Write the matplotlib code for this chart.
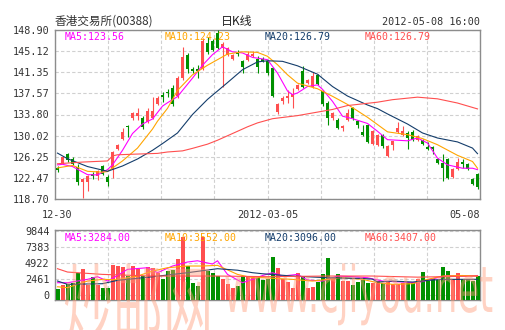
import matplotlib
matplotlib.use("Agg")
from matplotlib import pyplot as plt
from matplotlib.textpath import TextPath
from matplotlib.patches import PathPatch
from matplotlib.font_manager import FontProperties
import matplotlib.transforms as mtransforms
import numpy as np

plt.rcParams['font.family'] = ['DejaVu Sans Mono']

# daily candles 2011-12-30 .. 2012-05-08
opens = [124.3, 125.2, 126.8, 125.8, 124.4, 121.8, 121.8, 123.2, 122.8, 124.6,
         122.7, 124.0, 127.6, 129.4, 131.8, 133.1, 133.5, 133.2, 132.5, 133.2,
         135.7, 137.2, 137.9, 138.5, 137.1, 140.3, 144.4, 141.9, 142.0, 142.0,
         146.5, 146.9, 148.3, 145.6, 144.4, 143.8, 145.0, 143.3, 143.6, 144.2,
         143.8, 143.8, 143.4, 142.1, 134.3, 136.2, 136.8, 137.0, 138.4, 141.5,
         139.4, 138.8, 140.9, 138.0, 135.9, 133.1, 132.9, 131.3, 132.9, 134.9,
         132.7, 130.7, 131.9, 128.5, 128.4, 130.1, 126.4, 128.3, 130.7, 130.2,
         130.5, 130.7, 129.3, 129.3, 128.0, 128.0, 125.9, 125.2, 125.8, 122.6,
         124.0, 125.3, 124.9, 122.2, 123.1]
closes = [123.8, 126.2, 125.6, 124.9, 121.8, 122.2, 122.8, 122.8, 123.7, 123.1,
          121.8, 127.1, 128.4, 130.7, 131.5, 134.1, 134.1, 131.5, 134.4, 134.5,
          136.8, 136.9, 137.6, 135.7, 140.3, 144.0, 141.9, 141.5, 141.6, 146.9,
          144.9, 145.4, 145.7, 146.4, 145.6, 144.4, 144.6, 142.2, 144.6, 144.6,
          142.2, 143.4, 141.2, 137.1, 135.6, 136.8, 137.1, 137.4, 139.0, 138.7,
          139.9, 140.6, 139.3, 135.7, 133.2, 134.1, 131.4, 131.8, 134.1, 133.1,
          131.9, 130.2, 128.9, 130.8, 130.1, 128.1, 128.1, 129.0, 131.3, 130.8,
          129.6, 129.3, 129.9, 128.5, 127.7, 127.7, 125.2, 124.3, 122.5, 124.0,
          125.3, 125.0, 124.0, 121.4, 120.8]
highs = [124.6, 126.3, 127.0, 126.2, 124.9, 122.4, 123.0, 123.5, 123.9, 124.8,
         122.9, 127.3, 128.5, 131.3, 131.9, 134.3, 135.0, 133.5, 135.0, 136.9,
         137.1, 137.8, 138.3, 139.1, 140.6, 145.8, 144.8, 142.2, 142.7, 147.4,
         147.6, 147.3, 148.9, 146.7, 145.8, 144.7, 145.4, 143.6, 145.1, 145.2,
         144.2, 144.1, 143.6, 142.3, 135.9, 137.1, 138.2, 138.5, 139.3, 142.4,
         140.1, 141.4, 141.1, 138.2, 136.3, 134.3, 133.1, 132.0, 134.7, 135.1,
         132.9, 132.0, 132.1, 131.0, 130.3, 130.3, 128.3, 129.1, 132.5, 131.7,
         130.8, 131.0, 130.1, 129.5, 128.8, 128.2, 126.1, 126.7, 126.0, 124.2,
         126.0, 125.8, 125.1, 122.4, 123.3]
lows = [123.5, 125.0, 125.4, 124.7, 121.2, 118.8, 120.1, 122.2, 122.1, 122.9,
        121.1, 122.4, 127.4, 129.2, 129.7, 132.9, 132.9, 131.2, 132.3, 133.0,
        135.5, 136.0, 137.0, 135.3, 136.8, 140.0, 141.3, 141.2, 140.3, 141.8,
        144.6, 145.2, 145.5, 138.7, 144.2, 143.6, 144.3, 141.2, 143.4, 144.0,
        141.2, 143.2, 140.9, 136.9, 133.9, 135.6, 135.9, 134.9, 138.2, 138.5,
        139.2, 138.6, 139.0, 135.4, 131.9, 132.9, 131.2, 130.9, 132.7, 132.9,
        131.4, 130.0, 128.7, 128.3, 128.2, 127.9, 126.2, 127.4, 130.5, 130.0,
        127.7, 129.1, 129.1, 128.3, 127.5, 126.7, 125.0, 122.0, 122.2, 122.4,
        123.8, 124.3, 123.8, 121.2, 120.5]
volumes = [940, 1540, 1700, 1900, 3480, 4090, 1540, 2800, 1540, 1200,
           1100, 4650, 4500, 4350, 3050, 4500, 4090, 3050, 4350, 4240,
           3480, 2460, 3700, 3900, 5600, 9000, 4500, 1950, 1450, 8930,
           3700, 3480, 3000, 2460, 1800, 1200, 1450, 2970, 3050, 2870,
           2970, 2300, 2500, 5900, 4200, 2470, 2000, 1100, 3470, 2970,
           1100, 1250, 2000, 3230, 5770, 2470, 3230, 2200, 2200, 1550,
           2000, 2400, 1950, 1950, 2200, 1950, 2200, 1800, 1700, 1950,
           2000, 2000, 2460, 3580, 2200, 2460, 2400, 4390, 3730, 2460,
           3480, 2460, 2460, 2200, 3050]

# moving average lines, read at the candle index where they could be read
ma5_idx = [0, 1, 3, 6, 8, 10, 11, 13, 15, 17, 19, 21, 22, 24, 27, 29, 31, 33, 35, 37, 39,
           42, 44, 46, 47, 48, 50, 52, 53, 55, 57, 59, 62, 64, 66, 70, 72, 74, 76, 78, 81, 83, 84]
ma5_val = [124.8, 124.9, 124.5, 123.05, 123.0, 123.95, 124.8, 127.4, 130.4, 132.1, 133.0,
           135.3, 135.9, 137.0, 140.3, 142.6, 144.5, 145.9, 145.0, 144.8, 144.0, 143.6,
           141.2, 138.0, 137.35, 137.65, 138.8, 139.1, 138.3, 136.15, 133.5, 133.05, 132.2,
           130.8, 129.3, 129.1, 129.6, 128.7, 126.0, 124.8, 124.2, 124.2, 123.95]
ma10_idx = [0, 3, 6, 9, 10, 13, 16, 19, 20, 22, 24, 27, 30, 34, 37, 40, 42, 44, 46, 48, 52,
            55, 58, 62, 64, 66, 70, 73, 76, 80, 83, 84]
ma10_val = [124.25, 124.7, 123.65, 123.5, 123.6, 125.5, 127.8, 131.2, 132.6, 134.9, 138.1,
            140.9, 142.6, 144.6, 145.0, 144.9, 144.2, 142.7, 140.9, 139.4, 138.4, 137.05,
            135.6, 133.3, 132.0, 130.7, 130.2, 129.5, 128.4, 126.5, 125.4, 124.2]
ma20_idx = [0, 2, 6, 10, 13, 16, 19, 21, 24, 27, 30, 34, 37, 40, 42, 45, 48, 52, 55, 58, 62,
            64, 66, 70, 73, 76, 80, 83, 84]
ma20_val = [126.9, 125.9, 124.5, 123.65, 124.6, 125.85, 127.4, 128.6, 130.5, 133.8, 136.5,
            139.5, 141.8, 143.2, 143.4, 143.3, 142.5, 141.0, 138.8, 137.1, 135.5, 134.85,
            133.9, 132.1, 130.5, 129.6, 128.9, 127.8, 126.8]
ma60_idx = [0, 5, 10, 11, 12, 15, 20, 22, 25, 27, 30, 32, 35, 38, 40, 43, 48, 55, 58, 64,
            67, 72, 76, 80, 84]
ma60_val = [125.0, 125.3, 125.5, 126.4, 126.6, 126.7, 126.85, 127.1, 127.3, 127.75, 128.5,
            129.2, 130.4, 131.6, 132.3, 133.05, 133.6, 134.7, 135.4, 136.0, 136.45, 136.9,
            136.6, 135.85, 134.8]

vma5_idx = [0, 2, 6, 8, 10, 12, 14, 18, 20, 23, 26, 28, 31, 32, 34, 37, 39, 41, 43, 45, 48,
            50, 53, 56, 59, 62, 65, 69, 72, 76, 78, 81, 84]
vma5_val = [1950, 1950, 2460, 2870, 2200, 3050, 3990, 4240, 3480, 4500, 5110, 5300, 4800,
            5300, 3220, 1950, 2460, 3050, 3480, 2970, 3220, 2360, 2200, 2970, 2870, 2710,
            2200, 2050, 1950, 2715, 3050, 2970, 3050]
vma10_idx = [0, 2, 6, 9, 12, 16, 19, 22, 26, 29, 32, 36, 39, 41, 47, 51, 54, 57, 61, 64,
             67, 71, 74, 77, 81, 84]
vma10_val = [1330, 1200, 2200, 2460, 2400, 2970, 3730, 4240, 4500, 4500, 4600, 3220, 2710,
             2715, 2460, 2200, 2460, 2715, 2460, 1950, 1700, 1800, 2460, 2970, 3050, 2970]
vma20_idx = [0, 2, 9, 12, 19, 26, 32, 36, 39, 41, 47, 54, 61, 63, 64, 67, 71, 74, 77, 84]
vma20_val = [2205, 1700, 1800, 2310, 2860, 3480, 4090, 3860, 3480, 3320, 2970, 2710, 2600,
             2500, 2050, 2200, 2050, 2300, 2460, 2470]
vma60_idx = [0, 2, 9, 19, 32, 42, 54, 63, 72, 84]
vma60_val = [4090, 3580, 3220, 2970, 2970, 2870, 2970, 2970, 2800, 2970]

price_ticks = [118.70, 122.47, 126.25, 130.02, 133.80, 137.57, 141.35, 145.12, 148.90]
vol_ticks = [0, 2461, 4922, 7383, 9844]
date_labels = ['12-30', '2012-03-05', '05-08']
date_pos = [0, 42, 84.5]

title_left = '香港交易所(00388)'
title_mid = '日K线'
title_right = '2012-05-08 16:00'
price_legend = ['MA5:123.56', 'MA10:124.23', 'MA20:126.79', 'MA60:126.79']
vol_legend = ['MA5:3284.00', 'MA10:3552.00', 'MA20:3096.00', 'MA60:3407.00']

RED = '#ff4f4f'
GREEN = '#009000'
MA_COLORS = ['#ff00ff', '#ffa500', '#143d6b', '#ff4f4f']
W, H = 505, 330

fig = plt.figure(figsize=(W / 100, H / 100), dpi=100)
fig.patch.set_facecolor('white')
ax = fig.add_axes([55 / W, (H - 199) / H, 425 / W, 169 / H])
axv = fig.add_axes([55 / W, 30 / H, 425 / W, 70 / H])

n = len(closes)
idx = np.arange(n)
o = np.array(opens)
c = np.array(closes)
up = c >= o
cols = [RED if u else GREEN for u in up]

# candles
ax.vlines(idx, lows, highs, colors=cols, linewidth=0.8, zorder=3)
body_b = np.minimum(o, c)
body_h = np.maximum(np.abs(c - o), 0.18)
ax.bar(idx, body_h, bottom=body_b, width=0.64, color=cols, linewidth=0, zorder=4)

for (xi, yv), col in zip([(ma5_idx, ma5_val), (ma10_idx, ma10_val),
                          (ma20_idx, ma20_val), (ma60_idx, ma60_val)], MA_COLORS):
    ax.plot(xi, yv, color=col, linewidth=0.8, zorder=5)

# volume
vbottom = -690
axv.bar(idx, np.array(volumes) - vbottom, bottom=vbottom, width=0.8, color=cols,
        linewidth=0, zorder=3)
for (xi, yv), col in zip([(vma5_idx, vma5_val), (vma10_idx, vma10_val),
                          (vma20_idx, vma20_val), (vma60_idx, vma60_val)], MA_COLORS):
    axv.plot(xi, yv, color=col, linewidth=0.8, zorder=5)

for a in (ax, axv):
    a.set_xlim(-0.5, n - 0.5)
    a.set_xticks(np.linspace(-0.5, n - 0.5, 9))
    a.set_xticklabels([])
    a.grid(True, color='#d0d0d0', linestyle=(0, (3, 2)), linewidth=0.8, zorder=0)
    a.set_axisbelow(True)
    a.tick_params(length=0, pad=4, labelsize=7.3, labelcolor='#333333')
    for s in a.spines.values():
        s.set_color('#8c8c8c')
        s.set_linewidth(1.0)

ax.set_ylim(price_ticks[0], price_ticks[-1])
ax.set_yticks(price_ticks)
ax.set_yticklabels(['%.2f' % v for v in price_ticks])

axv.set_ylim(vbottom, 10000)
axv.set_yticks(vol_ticks)
axv.set_yticklabels([str(v) for v in vol_ticks])

trans = mtransforms.blended_transform_factory(ax.transData, fig.transFigure)
for lab, xp in zip(date_labels, date_pos):
    ha = 'right' if xp > n - 1 else 'center'
    ax.text(xp, 1 - 215 / H, lab, transform=trans, ha=ha, va='center',
            fontsize=7.3, color='#333333')

cjk = ['Noto Sans CJK SC', 'DejaVu Sans']
fig.text(55 / W, 1 - 21 / H, title_left, family=cjk, fontsize=8.4, color='#333333',
         ha='left', va='center')
fig.text(237 / W, 1 - 21 / H, title_mid, family=cjk, fontsize=8.6, color='#222222',
         ha='center', va='center')
fig.text(480 / W, 1 - 22 / H, title_right, fontsize=7.3, color='#333333',
         ha='right', va='center')

for k, (t1, t2) in enumerate(zip(price_legend, vol_legend)):
    fig.text((65 + 100 * k) / W, 1 - 37 / H, t1, fontsize=7.1, color=MA_COLORS[k],
             ha='left', va='center')
    fig.text((65 + 100 * k) / W, 1 - 238 / H, t2, fontsize=7.1, color=MA_COLORS[k],
             ha='left', va='center')

# watermark over the volume panel
wm_col = '#ff9c7a'
tp = TextPath((0, 0), '炒邮网', size=1, prop=FontProperties(family='Noto Sans CJK SC'))
fig.add_artist(PathPatch(tp, transform=mtransforms.Affine2D().scale(50, 90).translate(63, -9),
                         facecolor=wm_col, edgecolor='none', alpha=0.45, zorder=10))
tp2 = TextPath((0, 0), 'www.cjiyou.net', size=1, prop=FontProperties(family='DejaVu Sans'))
fig.add_artist(PathPatch(tp2, transform=mtransforms.Affine2D().scale(35.5, 64).translate(224, 18),
                         facecolor=wm_col, edgecolor='none', alpha=0.45, zorder=10))

fig.savefig('out.png', dpi=100)
